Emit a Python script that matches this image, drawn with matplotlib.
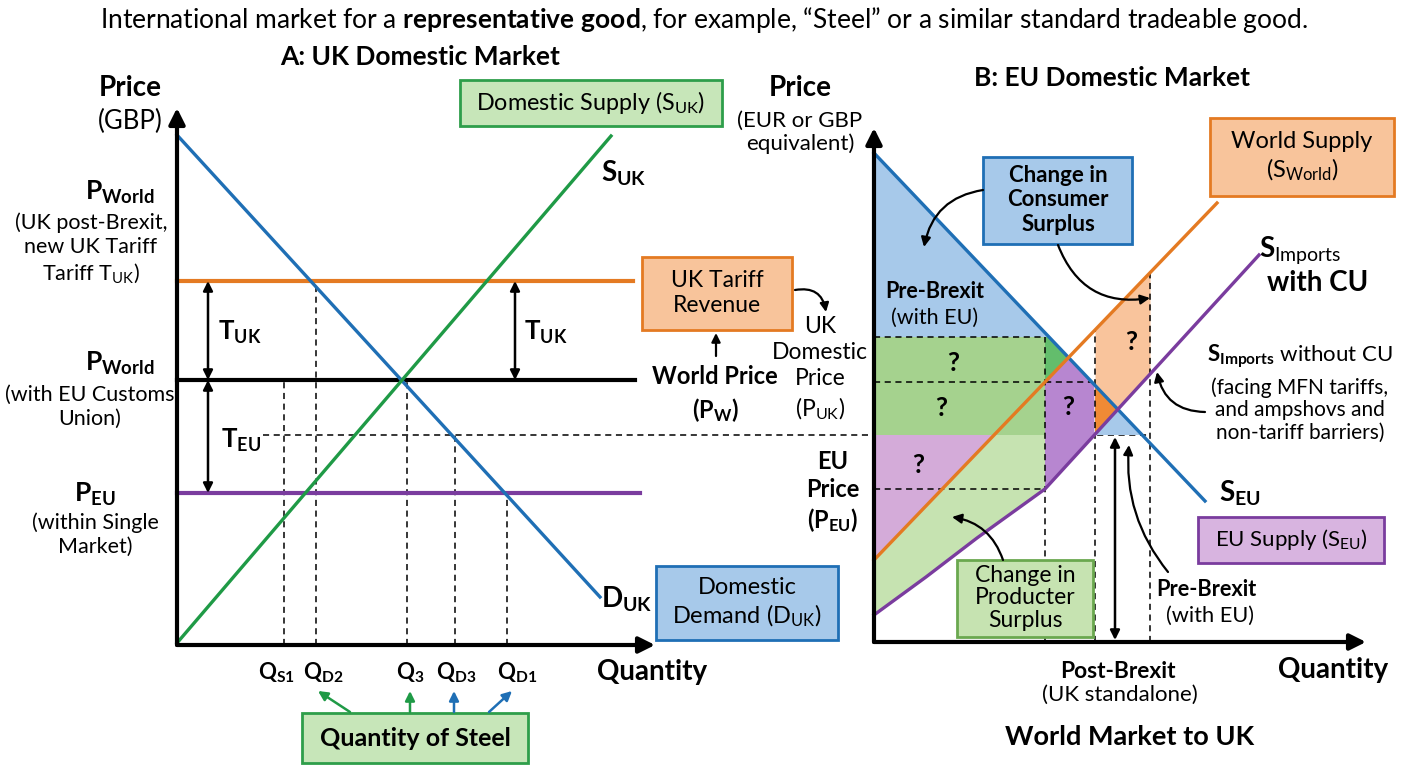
import numpy as np
import matplotlib
matplotlib.use("Agg")
import matplotlib.pyplot as plt
from matplotlib.patches import Rectangle, Polygon

plt.rcParams['font.family'] = ['Lato', 'DejaVu Sans']
plt.rcParams['mathtext.fontset'] = 'custom'
plt.rcParams['mathtext.rm'] = 'Lato'
plt.rcParams['mathtext.bf'] = 'Lato:bold'
plt.rcParams['mathtext.it'] = 'Lato:italic'
plt.rcParams['mathtext.default'] = 'regular'

# colours
BLUE = '#1f6fb5'
GREEN = '#1f9a46'
ORANGE = '#e47a22'
PURPLE = '#7a3c9e'

# ---------------- panel A data (quantity, price) ----------------
uk_demand_q = [0.0, 42.3]
uk_demand_p = [51.0, 4.8]
uk_supply_q = [0.0, 43.4]
uk_supply_p = [0.2, 50.9]
p_tariff, p_world, p_teu, p_eu = 36.4, 26.5, 21.0, 15.2
price_line_end = [45.6, 45.8, 46.3]
q_marks = [10.7, 13.9, 23.0, 27.8, 33.0]
q_tops = [p_world, p_tariff, p_world, p_teu, p_eu]
q_names = [r'$\mathbf{Q_{S1}}$', r'$\mathbf{Q_{D2}}$', r'$\mathbf{Q_{3}}$',
           r'$\mathbf{Q_{D3}}$', r'$\mathbf{Q_{D1}}$']
q_label_x = [9.9, 14.6, 23.3, 27.9, 34.0]
steel_arrow_from = [17.3, 23.3, 27.7, 31.2]
steel_arrow_to = [14.1, 23.3, 27.7, 33.5]
steel_arrow_col = [GREEN, GREEN, BLUE, BLUE]

# ---------------- panel B data ----------------
eu_demand_q = [0.0, 33.1]
eu_demand_p = [48.9, 14.1]
world_q = [0.0, 34.3]
world_p = [8.2, 43.9]
imp_q = [0.0, 5.2, 10.3, 17.1, 38.5]
imp_p = [2.7, 6.5, 10.4, 15.3, 38.7]
pb_uk, pb_w, pb_teu, pb_eu = 30.5, 26.0, 20.7, 15.3
q_kink, q_post, q_pre, q_arrow = 17.1, 22.1, 27.6, 24.1
qmark_pos = [(7.9, 27.9), (6.7, 23.4), (4.4, 17.7), (19.4, 23.5), (25.7, 30.0)]

OFFSET_Q = 69.7  # panel B origin seen from panel A

fig = plt.figure(figsize=(14.08, 7.68), dpi=100)
axL = fig.add_axes([0, 0, 0.5, 1])
axR = fig.add_axes([0.5, 0, 0.5, 1])
axL.set_xlim(-17.7, 52.7); axL.set_ylim(-12.3, 64.5)
axR.set_xlim(-17.0, 53.4); axR.set_ylim(-12.6, 64.2)
for a in (axL, axR):
    a.axis('off')
    a.patch.set_alpha(0)

fig.text(0.5, 0.974, r'International market for a $\mathbf{representative\ good}$, for example, “Steel” or a similar standard tradeable good.',
         ha='center', va='center', fontsize=19)


def arrow(ax, start, end, color='k', style='-|>', rad=0.0, lw=1.8, ms=16, z=8):
    ax.annotate('', xy=end, xytext=start, annotation_clip=False,
                arrowprops=dict(arrowstyle=style, color=color, lw=lw, mutation_scale=ms,
                                shrinkA=0, shrinkB=0,
                                connectionstyle='arc3,rad=%s' % rad), zorder=z)


def box(ax, q0, p0, q1, p1, face, edge, text, tq, tp, ls=1.2, **kw):
    ax.add_patch(Rectangle((q0, p1), q1 - q0, p0 - p1, facecolor=face, edgecolor=edge,
                           lw=2, clip_on=False, zorder=6))
    ax.text(tq, tp, text, ha='center', va='center', zorder=7, linespacing=ls, **kw)


def axes_arrows(ax, qmax, pmax):
    arrow(ax, (0, 0), (qmax, 0), lw=3, ms=24, z=9)
    arrow(ax, (0, 0), (0, pmax), lw=3, ms=24, z=9)

# ================= PANEL A =================
ax = axL
axes_arrows(ax, 47.8, 53.7)
ax.plot(uk_demand_q, uk_demand_p, color=BLUE, lw=2.4, zorder=4)
ax.plot(uk_supply_q, uk_supply_p, color=GREEN, lw=2.4, zorder=4)
ax.plot([0, price_line_end[0]], [p_tariff] * 2, color=ORANGE, lw=3, zorder=3)
ax.plot([0, price_line_end[1]], [p_world] * 2, color='k', lw=3, zorder=3)
ax.plot([0, price_line_end[2]], [p_eu] * 2, color=PURPLE, lw=3, zorder=3)
ax.plot([8.6, q_pre + OFFSET_Q], [p_teu] * 2, color='k', lw=1.1, ls=(0, (4, 3)), zorder=3, clip_on=False)
for q, top in zip(q_marks, q_tops):
    ax.plot([q, q], [0, top], color='k', lw=1.1, ls=(0, (4, 3)), zorder=2)
for name, x in zip(q_names, q_label_x):
    ax.text(x, -2.8, name, ha='center', va='center', fontsize=16)
for s, e, c in zip(steel_arrow_from, steel_arrow_to, steel_arrow_col):
    arrow(ax, (s, -6.7), (e, -4.6), color=c, lw=1.8, ms=14)

# tariff arrows
arrow(ax, (3.1, p_world), (3.1, p_tariff), style='<|-|>', lw=1.8, ms=14)
arrow(ax, (33.8, p_world), (33.8, p_tariff), style='<|-|>', lw=1.8, ms=14)
arrow(ax, (3.1, p_eu), (3.1, p_world), style='<|-|>', lw=1.8, ms=14)
ax.text(6.3, 31.3, r'$\mathbf{T_{UK}}$', ha='center', va='center', fontsize=18.5)
ax.text(36.9, 31.3, r'$\mathbf{T_{UK}}$', ha='center', va='center', fontsize=18.5)
ax.text(6.4, 20.5, r'$\mathbf{T_{EU}}$', ha='center', va='center', fontsize=18.5)

ax.text(-4.7, 55.7, 'Price', ha='center', va='center', fontsize=20, fontweight='bold')
ax.text(-4.7, 52.4, '(GBP)', ha='center', va='center', fontsize=18.5)
ax.text(-5.7, 45.3, r'$\mathbf{P_{World}}$', ha='center', va='center', fontsize=19)
ax.text(-8.6, 39.6, '(UK post-Brexit,\nnew UK Tariff\nTariff T$_{\\mathrm{UK}}$)', ha='center', va='center',
        fontsize=15.5, linespacing=1.25)
ax.text(-5.7, 28.2, r'$\mathbf{P_{World}}$', ha='center', va='center', fontsize=19)
ax.text(-8.7, 23.8, '(with EU Customs\nUnion)', ha='center', va='center', fontsize=15.5, linespacing=1.25)
ax.text(-8.2, 15.1, r'$\mathbf{P_{EU}}$', ha='center', va='center', fontsize=19)
ax.text(-8.2, 11.0, '(within Single\nMarket)', ha='center', va='center', fontsize=15.5, linespacing=1.25)
ax.text(44.7, 47.2, r'$\mathbf{S_{UK}}$', ha='center', va='center', fontsize=20)
ax.text(45.0, 4.6, r'$\mathbf{D_{UK}}$', ha='center', va='center', fontsize=20)
ax.text(47.5, -2.7, 'Quantity', ha='center', va='center', fontsize=20, fontweight='bold')
ax.text(24.3, 58.8, 'A: UK Domestic Market', ha='center', va='center', fontsize=19, fontweight='bold')

box(ax, 12.5, -6.8, 35.1, -11.8, '#c7e6b9', '#2e9e4a', 'Quantity of Steel', 23.8, -9.3,
    fontsize=18, fontweight='bold')
box(ax, 28.3, 56.5, 54.5, 51.9, '#c7e6b9', '#2e9e4a', r'Domestic Supply (S$_{\mathrm{UK}}$)', 41.4, 54.2,
    fontsize=16.8)
box(ax, 46.5, 38.8, 61.5, 31.5, '#f8c49b', ORANGE, 'UK Tariff\nRevenue', 54.0, 35.2, fontsize=16.5)
box(ax, 47.9, 7.9, 66.1, 0.5, '#a7c9ea', BLUE, r'Domestic' + '\n' + r'Demand (D$_{\mathrm{UK}}$)', 57.0, 4.2,
    fontsize=17)
arrow(ax, (61.8, 35.5), (64.9, 33.3), rad=-0.5, lw=1.6, ms=13)
arrow(ax, (53.9, 28.9), (53.9, 31.2), lw=1.6, ms=13)
ax.text(53.8, 26.9, 'World Price', ha='center', va='center', fontsize=17, fontweight='bold')
ax.text(53.8, 23.5, r'$\mathbf{(P_{W})}$', ha='center', va='center', fontsize=17)

# ================= PANEL B =================
ax = axR


def lin(qs, ps, q):
    return np.interp(q, qs, ps)


def d(q):
    return lin(eu_demand_q, eu_demand_p, q)


def w(q):
    return lin(world_q, world_p, q)


def s(q):
    return lin(imp_q, imp_p, q)

# intersections
q_dw = (eu_demand_p[0] - world_p[0]) / ((eu_demand_p[0] - eu_demand_p[1]) / eu_demand_q[1] + (world_p[1] - world_p[0]) / world_q[1])
grid = np.linspace(q_kink, imp_q[-1], 2000)
q_ds = grid[np.argmin(np.abs(d(grid) - s(grid)))]
q_d_uk = np.interp(-pb_uk, -np.array(eu_demand_p), eu_demand_q)
q_d_teu = np.interp(-pb_teu, -np.array(eu_demand_p), eu_demand_q)
q_w_teu = np.interp(pb_teu, world_p, world_q)
q_s_teu = np.interp(pb_teu, imp_p, imp_q)

fills = [
    ([(0, eu_demand_p[0]), (q_d_uk, pb_uk), (0, pb_uk)], '#a7c9ea'),
    ([(0, pb_teu), (q_kink, pb_teu), (q_kink, pb_uk), (0, pb_uk)], '#a5d28e'),
    ([(q_kink, pb_uk), (q_d_uk, pb_uk), (q_dw, d(q_dw)), (q_kink, w(q_kink))], '#63bd6c'),
    ([(q_kink, w(q_kink)), (q_dw, d(q_dw)), (q_s_teu, d(q_s_teu)), (q_s_teu, pb_teu), (q_kink, s(q_kink))], '#b786d0'),
    ([(0, pb_teu), (q_w_teu, pb_teu), (0, world_p[0])], '#d4abd9'),
    ([(q_w_teu, pb_teu), (q_kink, pb_teu)] + [(q, s(q)) for q in imp_q[:4][::-1]] + [(0, world_p[0])], '#c6e3b1'),
    ([(q_post, d(q_post)), (q_ds, d(q_ds)), (q_post, s(q_post))], '#f08a35'),
    ([(q_s_teu, pb_teu), (q_ds, d(q_ds)), (q_d_teu, pb_teu)], '#a7c9ea'),
]
for pts, col in fills:
    ax.add_patch(Polygon(pts, closed=True, facecolor=col, edgecolor='none', zorder=1))
qq = np.linspace(q_post, q_pre, 200)
ax.fill_between(qq, np.maximum(d(qq), s(qq)), w(qq), color='#f9c49c', lw=0, zorder=1)

axes_arrows(ax, 49.2, 51.4)
ax.plot(eu_demand_q, eu_demand_p, color=BLUE, lw=2.4, zorder=4)
ax.plot(world_q, world_p, color=ORANGE, lw=2.4, zorder=4)
ax.plot(imp_q, imp_p, color=PURPLE, lw=2.4, zorder=4)

dash = dict(color='k', lw=1.1, ls=(0, (4, 3)), zorder=3)
ax.plot([0, q_kink], [pb_uk] * 2, **dash)
ax.plot([0, 21.9], [pb_w] * 2, **dash)
ax.plot([0, q_kink], [pb_eu] * 2, **dash)
ax.plot([q_kink, q_kink], [0, pb_uk], **dash)
ax.plot([q_post, q_post], [0, w(q_post)], **dash)
ax.plot([q_pre, q_pre], [0, w(q_pre)], **dash)
arrow(ax, (q_arrow, 0.2), (q_arrow, pb_teu - 0.2), style='<|-|>', lw=1.8, ms=14)

for q, p in qmark_pos:
    ax.text(q, p, '?', ha='center', va='center', fontsize=19, fontweight='bold', zorder=5)

ax.text(-7.4, 55.4, 'Price', ha='center', va='center', fontsize=20, fontweight='bold')
ax.text(-7.4, 51.0, '(EUR or GBP\nequivalent)', ha='center', va='center', fontsize=16, linespacing=1.15)
ax.text(23.8, 56.4, 'B: EU Domestic Market', ha='center', va='center', fontsize=19, fontweight='bold')
ax.text(-5.4, 27.3, 'UK\nDomestic\nPrice\n(P$_{\\mathrm{UK}}$)', ha='center', va='center', fontsize=16.5,
        linespacing=1.3)
ax.text(-4.1, 15.0, 'EU\nPrice\n' + r'$\mathbf{(P_{EU})}$', ha='center', va='center', fontsize=17,
        fontweight='bold', linespacing=1.25)
ax.text(6.1, 35.0, 'Pre-Brexit', ha='center', va='center', fontsize=15.5, fontweight='bold')
ax.text(6.1, 32.4, '(with EU)', ha='center', va='center', fontsize=15.5)

box(ax, 10.9, 48.5, 25.8, 39.8, '#a7c9ea', BLUE, 'Change in\nConsumer\nSurplus', 18.4, 44.2,
    fontsize=16, fontweight='bold')
arrow(ax, (10.9, 45.2), (5.0, 39.5), rad=0.35, lw=1.6, ms=14)
arrow(ax, (18.4, 39.7), (27.6, 34.4), rad=0.4, lw=1.6, ms=14)
box(ax, 33.6, 52.4, 52.0, 44.6, '#f8c49b', ORANGE, 'World Supply\n' + r'(S$_{\mathrm{World}}$)', 42.8, 48.5,
    fontsize=17)
ax.text(42.6, 39.2, r'$\mathbf{S}_{\mathrm{Imports}}$', ha='center', va='center', fontsize=20)
ax.text(44.4, 35.9, 'with CU', ha='center', va='center', fontsize=20, fontweight='bold')
ax.text(42.6, 28.6, r'$\mathbf{S}_{\mathbf{Imports}}$ without CU', ha='center', va='center', fontsize=16)
ax.text(42.6, 23.2, '(facing MFN tariffs,\nand ampshovs and\nnon-tariff barriers)', ha='center', va='center',
        fontsize=15, linespacing=1.15)
arrow(ax, (33.1, 23.0), (28.3, 27.0), rad=-0.4, lw=1.6, ms=14)
ax.text(36.6, 14.9, r'$\mathbf{S_{EU}}$', ha='center', va='center', fontsize=20)
box(ax, 32.4, 12.5, 51.0, 7.9, '#d8b4e0', PURPLE, r'EU Supply (S$_{\mathrm{EU}}$)', 41.7, 10.2, fontsize=16)
box(ax, 8.3, 8.2, 21.9, 0.5, '#c6e3b1', '#6aa84f', 'Change in\nProducter\nSurplus', 15.1, 4.4,
    ls=1.1, fontsize=16.5)
arrow(ax, (12.9, 8.2), (7.8, 12.5), rad=0.3, lw=1.6, ms=14)
ax.text(33.2, 5.2, 'Pre-Brexit', ha='center', va='center', fontsize=15.7, fontweight='bold')
ax.text(33.6, 2.6, '(with EU)', ha='center', va='center', fontsize=15.7)
arrow(ax, (29.4, 7.0), (25.5, 19.7), rad=-0.2, lw=1.6, ms=14)
ax.text(24.4, -3.0, 'Post-Brexit', ha='center', va='center', fontsize=16.4, fontweight='bold')
ax.text(24.6, -5.3, '(UK standalone)', ha='center', va='center', fontsize=16)
ax.text(45.9, -2.8, 'Quantity', ha='center', va='center', fontsize=20, fontweight='bold')
ax.text(25.6, -9.5, 'World Market to UK', ha='center', va='center', fontsize=19.5, fontweight='bold')

fig.savefig('out.png', dpi=100)
